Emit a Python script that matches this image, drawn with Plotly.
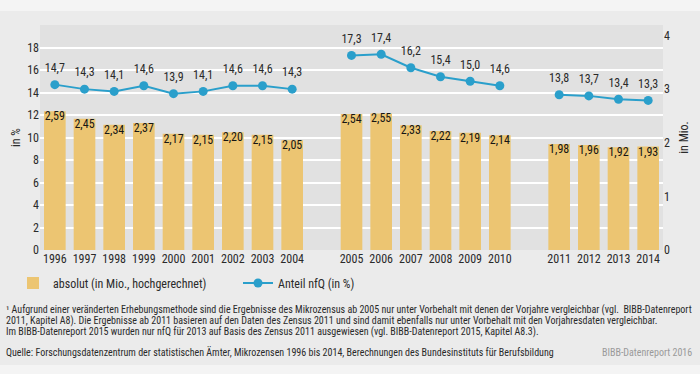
import plotly.graph_objects as go

years_a = ["1996", "1997", "1998", "1999", "2000", "2001", "2002", "2003", "2004"]
years_b = ["2005", "2006", "2007", "2008", "2009", "2010"]
years_c = ["2011", "2012", "2013", "2014"]
gap1, gap2 = " ", "  "

absolut_a = [2.59, 2.45, 2.34, 2.37, 2.17, 2.15, 2.20, 2.15, 2.05]
absolut_b = [2.54, 2.55, 2.33, 2.22, 2.19, 2.14]
absolut_c = [1.98, 1.96, 1.92, 1.93]

anteil_a = [14.7, 14.3, 14.1, 14.6, 13.9, 14.1, 14.6, 14.6, 14.3]
anteil_b = [17.3, 17.4, 16.2, 15.4, 15.0, 14.6]
anteil_c = [13.8, 13.7, 13.4, 13.3]

left_ticks = [0, 2, 4, 6, 8, 10, 12, 14, 16, 18]
right_ticks = [0, 1, 2, 3, 4]

categories = years_a + [gap1] + years_b + [gap2] + years_c
bar_x = years_a + years_b + years_c
bar_y = absolut_a + absolut_b + absolut_c
line_y = anteil_a + [None] + anteil_b + [None] + anteil_c

FONT = "Roboto Condensed, DejaVu Sans Condensed, sans-serif"
BAR = "#ecc572"
LINE = "#2a9fcb"
TXT = "#2a2a2a"

fig = go.Figure()
fig.add_trace(go.Bar(
    x=bar_x, y=bar_y, yaxis="y2", name="absolut (in Mio., hochgerechnet)",
    marker=dict(color=BAR, line=dict(width=0)), hoverinfo="x+y",
))
fig.add_trace(go.Scatter(
    x=bar_x, y=bar_y, yaxis="y2", showlegend=False,
    mode="text", texttemplate="%{y:.2f}", textposition="bottom center",
    textfont=dict(family=FONT, size=12, color="#151515"), hoverinfo="skip",
))
fig.add_trace(go.Scatter(
    x=categories, y=line_y, yaxis="y", name="Anteil nfQ (in %)",
    mode="lines+markers", connectgaps=False,
    line=dict(color=LINE, width=2), marker=dict(color=LINE, size=9),
))
fig.add_trace(go.Scatter(
    x=categories, y=line_y, yaxis="y", showlegend=False,
    mode="markers+text", texttemplate="%{y:.1f}", textposition="top center",
    marker=dict(size=14, color="rgba(0,0,0,0)"),
    textfont=dict(family=FONT, size=12, color=TXT), hoverinfo="skip",
))

def py(px):
    return (250 - px) / 225.0

def px_x(px):
    return (px - 40) / 623.0

notes = [
    (310, "¹ Aufgrund einer veränderten Erhebungsmethode sind die Ergebnisse des Mikrozensus ab 2005 nur unter Vorbehalt mit denen der Vorjahre vergleichbar (vgl.  BIBB-Datenreport"),
    (321, "2011, Kapitel A8). Die Ergebnisse ab 2011 basieren auf den Daten des Zensus 2011 und sind damit ebenfalls nur unter Vorbehalt mit den Vorjahresdaten vergleichbar."),
    (332, "Im BIBB-Datenreport 2015 wurden nur nfQ für 2013 auf Basis des Zensus 2011 ausgewiesen (vgl. BIBB-Datenreport 2015, Kapitel A8.3)."),
    (352, "Quelle: Forschungsdatenzentrum der statistischen Ämter, Mikrozensen 1996 bis 2014, Berechnungen des Bundesinstituts für Berufsbildung"),
]
annotations = []
for ypx, t in notes:
    annotations.append(dict(
        xref="paper", yref="paper", x=px_x(4), y=py(ypx), xanchor="left", yanchor="middle",
        text=t, showarrow=False, font=dict(family=FONT, size=10, color=TXT),
    ))
annotations.append(dict(
    xref="paper", yref="paper", x=px_x(694), y=py(352), xanchor="right", yanchor="middle",
    text="BIBB-Datenreport 2016", showarrow=False, font=dict(family=FONT, size=10, color="#9a9a9a"),
))

shapes = [
    dict(type="rect", xref="paper", yref="paper", x0=px_x(0), x1=px_x(700), y0=py(0), y1=py(11),
         fillcolor="#f4f4f4", line=dict(width=0), layer="below"),
    dict(type="rect", xref="paper", yref="paper", x0=px_x(0), x1=px_x(700), y0=py(365), y1=py(374),
         fillcolor="#f4f4f4", line=dict(width=0), layer="below"),
]

fig.update_layout(
    width=700, height=374,
    margin=dict(l=40, r=37, t=25, b=124, pad=0),
    paper_bgcolor="#ebebeb", plot_bgcolor="#e1e1e1",
    separators=",.",
    font=dict(family=FONT, size=12, color=TXT),
    bargap=0.27,
    showlegend=True,
    legend=dict(orientation="h", x=px_x(13), y=py(283), xanchor="left", yanchor="middle",
                bgcolor="rgba(0,0,0,0)", font=dict(family=FONT, size=12, color=TXT),
                entrywidth=180, entrywidthmode="pixels", itemwidth=30),
    xaxis=dict(type="category", categoryorder="array", categoryarray=categories,
               range=[-0.5, len(categories) - 0.5], showgrid=False, zeroline=False,
               ticks="", tickfont=dict(family=FONT, size=12, color=TXT), tickangle=0, fixedrange=True),
    yaxis=dict(range=[0, 20], tickvals=left_ticks, showgrid=True, gridcolor="#ffffff", gridwidth=1.5,
               zeroline=False, ticks="", tickfont=dict(family=FONT, size=12, color=TXT),
               title=dict(text="in %", font=dict(family=FONT, size=12, color=TXT), standoff=3)),
    yaxis2=dict(range=[0, 4.2], tickvals=right_ticks, overlaying="y", side="right", showgrid=False,
                zeroline=False, ticks="", tickfont=dict(family=FONT, size=12, color=TXT),
                title=dict(text="in Mio.", font=dict(family=FONT, size=12, color=TXT), standoff=10)),
    annotations=annotations, shapes=shapes,
)

fig.write_html("out.html", config={"displayModeBar": False},
               post_script="document.body.style.margin='0';")
